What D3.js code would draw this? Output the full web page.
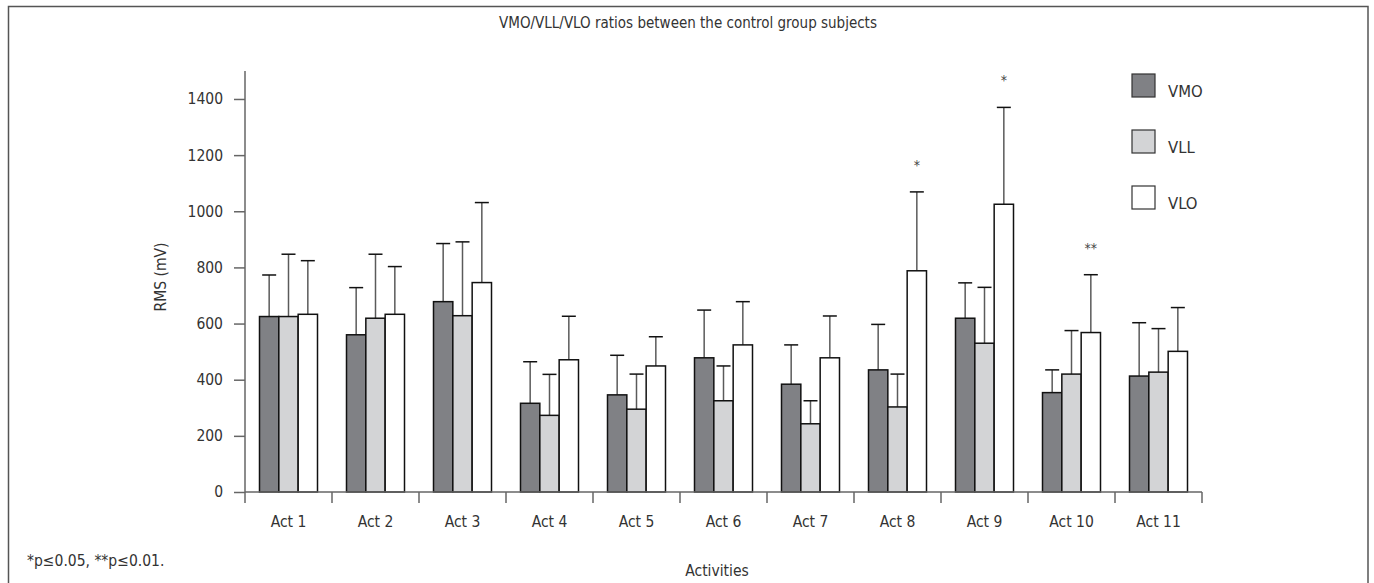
<!DOCTYPE html>
<html>
<head>
<meta charset="utf-8">
<script src="https://cdn.jsdelivr.net/npm/d3@7"></script>
<style>
  body { margin: 0; background: #fff; }
  svg text { font-family: "Liberation Sans Narrow", "DejaVu Sans Condensed", "Roboto", sans-serif; fill: #333; }
</style>
</head>
<body>
<div id="chart"></div>
<script>
// data
const activities = ["Act 1", "Act 2", "Act 3", "Act 4", "Act 5", "Act 6", "Act 7", "Act 8", "Act 9", "Act 10", "Act 11"];
const series = ["VMO", "VLL", "VLO"];
const vmoMean = [625, 560, 678, 316, 346, 478, 384, 435, 619, 354, 413];
const vmoSd   = [148, 168, 207, 148, 141, 170, 140, 162, 126,  81, 190];
const vllMean = [625, 619, 628, 273, 295, 325, 243, 303, 530, 420, 427];
const vllSd   = [222, 228, 263, 146, 125, 124,  82, 117, 199, 155, 155];
const vloMean = [633, 633, 746, 471, 449, 524, 478, 788, 1025, 568, 501];
const vloSd   = [191, 170, 285, 155, 104, 154, 149, 281, 345, 206, 156];
const vloSig  = ["", "", "", "", "", "", "", "*", "*", "**", ""];
const yTicks = [0, 200, 400, 600, 800, 1000, 1200, 1400];

const fills = {VMO: "#808185", VLL: "#d3d4d6", VLO: "#ffffff"};
const means = {VMO: vmoMean, VLL: vllMean, VLO: vloMean};
const sds = {VMO: vmoSd, VLL: vllSd, VLO: vloSd};

const W = 1374, H = 583;
const svg = d3.select("#chart").append("svg").attr("width", W).attr("height", H);

// frame
svg.append("path")
  .attr("d", `M8.5,${H} V6.5 H1368 V${H}`)
  .attr("fill", "none").attr("stroke", "#555").attr("stroke-width", 1.5);

svg.append("text")
  .attr("x", 688).attr("y", 28)
  .attr("text-anchor", "middle").style("font-size", "15px")
  .text("VMO/VLL/VLO ratios between the control group subjects");

// scales
const y = d3.scaleLinear().domain([0, 1500]).range([492, 70.9]);
const x = d3.scaleBand().domain(activities).range([245, 1202]);
const x1 = d3.scaleBand().domain(series).range([14.5, x.bandwidth() - 14.5]);

const g = svg.append("g");

// bars
const groups = g.selectAll(".grp")
  .data(activities)
  .enter().append("g")
    .attr("class", "grp")
    .attr("transform", d => `translate(${x(d)},0)`);

series.forEach(s => {
  // error bars first so bar outline sits on top
  groups.append("line")
    .attr("x1", x1(s) + x1.bandwidth() / 2).attr("x2", x1(s) + x1.bandwidth() / 2)
    .attr("y1", (d, i) => y(means[s][i]))
    .attr("y2", (d, i) => y(means[s][i] + sds[s][i]))
    .attr("stroke", "#5a5a5a").attr("stroke-width", 1.5);
  groups.append("line")
    .attr("x1", x1(s) + x1.bandwidth() / 2 - 7).attr("x2", x1(s) + x1.bandwidth() / 2 + 7)
    .attr("y1", (d, i) => y(means[s][i] + sds[s][i]))
    .attr("y2", (d, i) => y(means[s][i] + sds[s][i]))
    .attr("stroke", "#111").attr("stroke-width", 1.5);
  groups.append("rect")
    .attr("x", x1(s))
    .attr("width", x1.bandwidth())
    .attr("y", (d, i) => y(means[s][i]))
    .attr("height", (d, i) => y(0) - y(means[s][i]))
    .attr("fill", fills[s])
    .attr("stroke", "#111").attr("stroke-width", 1.5);
});

// significance marks over VLO
groups.append("text")
  .attr("x", x1("VLO") + x1.bandwidth() / 2)
  .attr("y", (d, i) => y(vloMean[i] + vloSd[i]) - 22)
  .attr("text-anchor", "middle")
  .style("font-size", "14px")
  .style("fill", "#444")
  .text((d, i) => vloSig[i]);

// y axis
const yAxis = g.append("g").attr("transform", "translate(245,0)")
  .call(d3.axisLeft(y).tickValues(yTicks).tickFormat(d3.format("d")).tickSize(11).tickPadding(11));
yAxis.select(".domain").attr("d", `M0,${y(0)}V${y(1500)}`);
yAxis.selectAll("line, path").attr("stroke", "#666").attr("stroke-width", 1.5);
yAxis.selectAll("text").style("font-size", "15.5px").attr("fill", "#333");

// x axis with ticks on category boundaries
const xa = g.append("g");
xa.append("line")
  .attr("x1", 245).attr("x2", 1202).attr("y1", y(0)).attr("y2", y(0))
  .attr("stroke", "#666").attr("stroke-width", 1.5);
xa.selectAll(".bt")
  .data(activities.concat(["end"]))
  .enter().append("line")
    .attr("x1", (d, i) => 245 + i * x.bandwidth())
    .attr("x2", (d, i) => 245 + i * x.bandwidth())
    .attr("y1", y(0)).attr("y2", y(0) + 11)
    .attr("stroke", "#666").attr("stroke-width", 1.5);
xa.selectAll(".lbl")
  .data(activities)
  .enter().append("text")
    .attr("x", d => x(d) + x.bandwidth() / 2)
    .attr("y", 527)
    .attr("text-anchor", "middle")
    .style("font-size", "15.5px")
    .text(d => d);

svg.append("text")
  .attr("x", 717).attr("y", 576)
  .attr("text-anchor", "middle").style("font-size", "15.5px")
  .text("Activities");

svg.append("text")
  .attr("transform", "translate(166,277) rotate(-90)")
  .attr("text-anchor", "middle").style("font-size", "15.5px")
  .text("RMS (mV)");

svg.append("text")
  .attr("x", 27).attr("y", 566)
  .style("font-size", "15.5px")
  .text("*p≤0.05, **p≤0.01.");

// legend
const legend = svg.append("g").attr("transform", "translate(1132,74)");
const li = legend.selectAll(".li")
  .data(series)
  .enter().append("g")
    .attr("transform", (d, i) => `translate(0,${i * 56})`);
li.append("rect")
  .attr("width", 23).attr("height", 23)
  .attr("fill", d => fills[d])
  .attr("stroke", "#333").attr("stroke-width", 1.2);
li.append("text")
  .attr("x", 36).attr("y", 23)
  .style("font-size", "16.5px")
  .text(d => d);
</script>
</body>
</html>
